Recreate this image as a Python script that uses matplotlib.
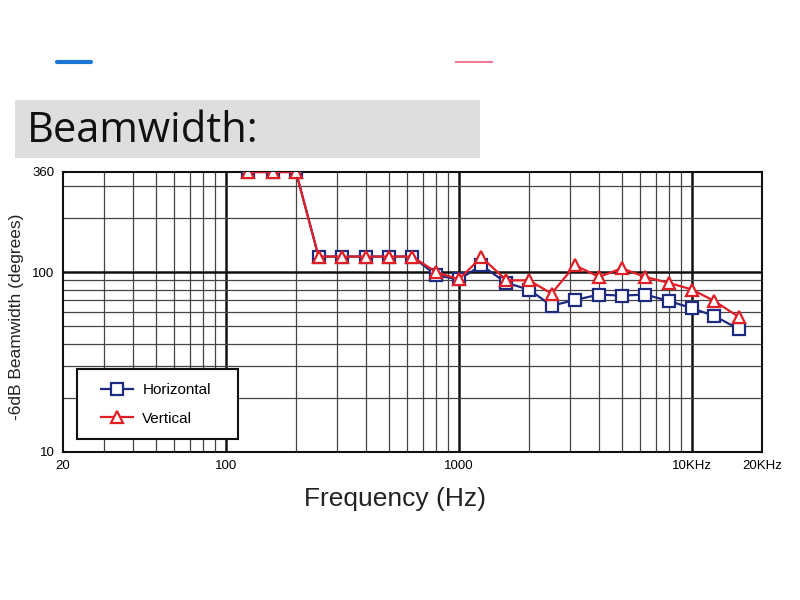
import numpy as np
import matplotlib
matplotlib.use("Agg")
import matplotlib.pyplot as plt
from matplotlib.patches import Rectangle
from matplotlib.lines import Line2D

# 1/3 octave band centres (Hz)
freqs = [125, 160, 200, 250, 315, 400, 500, 630, 800, 1000, 1250, 1600,
         2000, 2500, 3150, 4000, 5000, 6300, 8000, 10000, 12500, 16000]

# -6dB beamwidth (degrees)
horizontal = [360, 360, 360, 122, 122, 122, 122, 122, 96, 91, 109, 87,
              80, 65, 70, 75, 74, 75, 69, 63, 57, 48]
vertical = [360, 360, 360, 122, 122, 122, 122, 122, 100, 91, 121, 90,
            90, 76, 109, 94, 105, 94, 87, 80, 69, 56]

x_ticks = [20, 100, 1000, 10000, 20000]
x_labels = ["20", "100", "1000", "10KHz", "20KHz"]
y_ticks = [10, 100, 360]
y_labels = ["10", "100", "360"]

plt.rcParams['font.family'] = ['Liberation Sans', 'DejaVu Sans']

W, H = 800, 600
fig = plt.figure(figsize=(8, 6), dpi=100)


def fx(px):
    return px / W


def fy(py):
    return 1 - py / H


# header decorations
fig.add_artist(Line2D([fx(57), fx(91)], [fy(62), fy(62)], color='#1a78d4',
                      lw=3, solid_capstyle='round'))
fig.add_artist(Line2D([fx(456), fx(492)], [fy(62), fy(62)], color='#f07a96',
                      lw=1.5))
fig.add_artist(Rectangle((fx(15), fy(158)), fx(480 - 15), (158 - 100) / H,
                         facecolor='#dedede', edgecolor='none'))
fig.text(fx(27), fy(131), "Beamwidth:", fontsize=30, family='Open Sans',
         va='center', ha='left', color='#111111')

# plot area: x 20..20000 -> px 63..762, y 10..360 -> px 452..172
ax = fig.add_axes([fx(63), fy(452), fx(762 - 63), (452 - 172) / H])
ax.set_xscale('log')
ax.set_yscale('log')
ax.set_xlim(20, 20000)
ax.set_ylim(10, 360)

# grid
for dec in [10, 100, 1000]:
    for m in range(2, 10):
        f = dec * m
        if 20 < f < 20000:
            ax.axvline(f, color='#444444', lw=0.9, zorder=1)
for f in [100, 1000, 10000]:
    ax.axvline(f, color='#111111', lw=1.8, zorder=1)
for dec in [10, 100]:
    for m in range(2, 10):
        v = dec * m
        if 10 < v < 360:
            ax.axhline(v, color='#444444', lw=0.9, zorder=1)
ax.axhline(100, color='#111111', lw=1.8, zorder=1)

ax.plot(freqs, horizontal, color='#1c2a80', lw=1.6, marker='s', ms=8,
        mfc='white', mec='#1c2a80', mew=1.6, label='Horizontal', zorder=3)
ax.plot(freqs, vertical, color='#e01e26', lw=1.6, marker='^', ms=8.5,
        mfc='white', mec='#e01e26', mew=1.6, label='Vertical', zorder=4)

ax.set_xticks(x_ticks)
ax.set_xticklabels(x_labels)
ax.set_yticks(y_ticks)
ax.set_yticklabels(y_labels)
ax.minorticks_off()
ax.tick_params(length=0, labelsize=9.5, pad=6)
for spine in ax.spines.values():
    spine.set_linewidth(1.5)
    spine.set_color('#111111')

fig.text(fx(395), fy(499), "Frequency (Hz)", fontsize=19, color='#222222',
         ha='center', va='center')
fig.text(fx(17), fy(317), "-6dB Beamwidth (degrees)", fontsize=12.5,
         color='#222222', rotation=90, ha='center', va='center')

# legend box drawn by hand: px 77..238, 369..439
ax.add_patch(Rectangle((14 / 699, 13 / 280), 161 / 699, 70 / 280,
                       transform=ax.transAxes, facecolor='white',
                       edgecolor='#111111', lw=1.5, zorder=6))
leg = ax.legend(loc='center left', bbox_to_anchor=(38 / 699, 47.5 / 280),
                frameon=False, fontsize=11, handlelength=2.1,
                labelspacing=0.95, borderpad=0, handletextpad=0.6,
                borderaxespad=0)
leg.set_zorder(7)

fig.savefig("out.png", dpi=100)
